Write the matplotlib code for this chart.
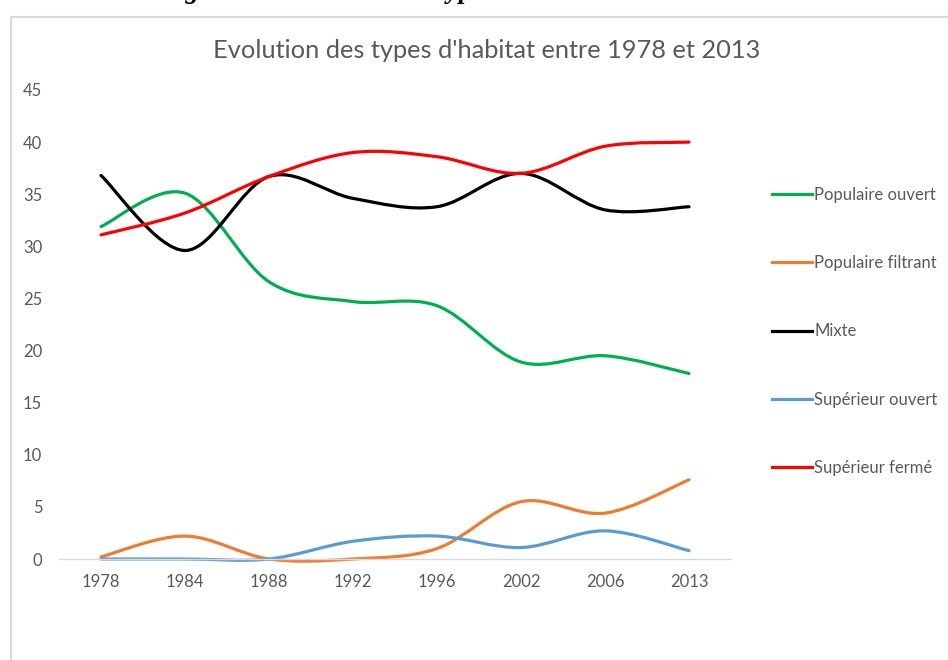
import numpy as np
import matplotlib.pyplot as plt
from matplotlib.path import Path
from matplotlib.patches import PathPatch, Rectangle
from matplotlib.lines import Line2D

plt.rcParams['font.family'] = ['Lato', 'DejaVu Sans']

# données
annees = ['1978', '1984', '1988', '1992', '1996', '2002', '2006', '2013']
populaire_ouvert = [31.9, 35.1, 26.6, 24.7, 24.3, 18.9, 19.5, 17.8]
populaire_filtrant = [0.2, 2.2, 0.0, 0.0, 1.0, 5.5, 4.4, 7.6]
mixte = [36.8, 29.6, 36.7, 34.6, 33.8, 37.0, 33.5, 33.8]
superieur_ouvert = [0.0, 0.0, 0.0, 1.7, 2.2, 1.1, 2.7, 0.8]
superieur_ferme = [31.1, 33.2, 36.7, 39.0, 38.6, 37.0, 39.6, 40.0]

series = [
    ('Populaire ouvert', populaire_ouvert, '#00B050'),
    ('Populaire filtrant', populaire_filtrant, '#ED7D31'),
    ('Mixte', mixte, '#000000'),
    ('Supérieur ouvert', superieur_ouvert, '#5B9BD5'),
    ('Supérieur fermé', superieur_ferme, '#FF0000'),
]

gris = '#595959'
W, H = 948, 660


def courbe_lissee(x, y):
    # courbe lissée façon Excel (Bezier de type Catmull-Rom)
    x = np.asarray(x, float)
    y = np.asarray(y, float)
    px = np.r_[x[0], x, x[-1]]
    py = np.r_[y[0], y, y[-1]]
    verts = [(x[0], y[0])]
    codes = [Path.MOVETO]
    for i in range(1, len(x)):
        p0 = np.array([px[i - 1], py[i - 1]])
        p1 = np.array([px[i], py[i]])
        p2 = np.array([px[i + 1], py[i + 1]])
        p3 = np.array([px[i + 2], py[i + 2]])
        c1 = p1 + (p2 - p0) / 6
        c2 = p2 - (p3 - p1) / 6
        verts += [tuple(c1), tuple(c2), tuple(p2)]
        codes += [Path.CURVE4] * 3
    return Path(verts, codes)


fig = plt.figure(figsize=(W / 100, H / 100), dpi=100)

# cadre gris autour du graphique
fig.patches.append(Rectangle((10.5 / W, 0 - 0.1), 2, 1 - 17 / H + 0.1,
                             transform=fig.transFigure, fill=False,
                             edgecolor='#D9D9D9', lw=1.5))

# légende de figure coupée en haut
fig.text(160 / W, 1 + 1.5 / H, "Figure 3 : Evolution des types d'habitat",
         family='Liberation Serif', weight='bold', style='italic',
         fontsize=19.5, va='baseline', ha='left')

ax = fig.add_axes([59 / W, 1 - 559 / H, (731 - 59) / W, (559 - 90) / H])
x = np.arange(len(annees))
for nom, valeurs, couleur in series:
    ax.add_patch(PathPatch(courbe_lissee(x, valeurs), fill=False, edgecolor=couleur,
                           lw=2.3, capstyle='round', joinstyle='round', clip_on=False))

ax.set_xlim(-0.5, len(annees) - 0.5)
ax.set_ylim(0, 45)
ax.set_xticks(x)
ax.set_xticklabels(annees)
ax.set_yticks(range(0, 50, 5))
ax.tick_params(length=0, colors=gris, labelsize=12)
ax.tick_params(axis='x', pad=11)
ax.tick_params(axis='y', pad=12)
for s in ['top', 'right', 'left']:
    ax.spines[s].set_visible(False)
ax.spines['bottom'].set_color('#D9D9D9')
ax.spines['bottom'].set_linewidth(1)

fig.text(487 / W, 1 - 51 / H, "Evolution des types d'habitat entre 1978 et 2013",
         ha='center', va='center', fontsize=18.3, color=gris)

poignees = [Line2D([], [], color=c, lw=2.3) for _, _, c in series]
fig.legend(poignees, [n for n, _, _ in series], loc='upper left',
           bbox_to_anchor=(772 / W, 1 - 187 / H), frameon=False,
           fontsize=12, labelcolor=gris, handlelength=2.4, handletextpad=0.15,
           labelspacing=3.13, borderaxespad=0, borderpad=0)

fig.savefig('out.png', dpi=100)
